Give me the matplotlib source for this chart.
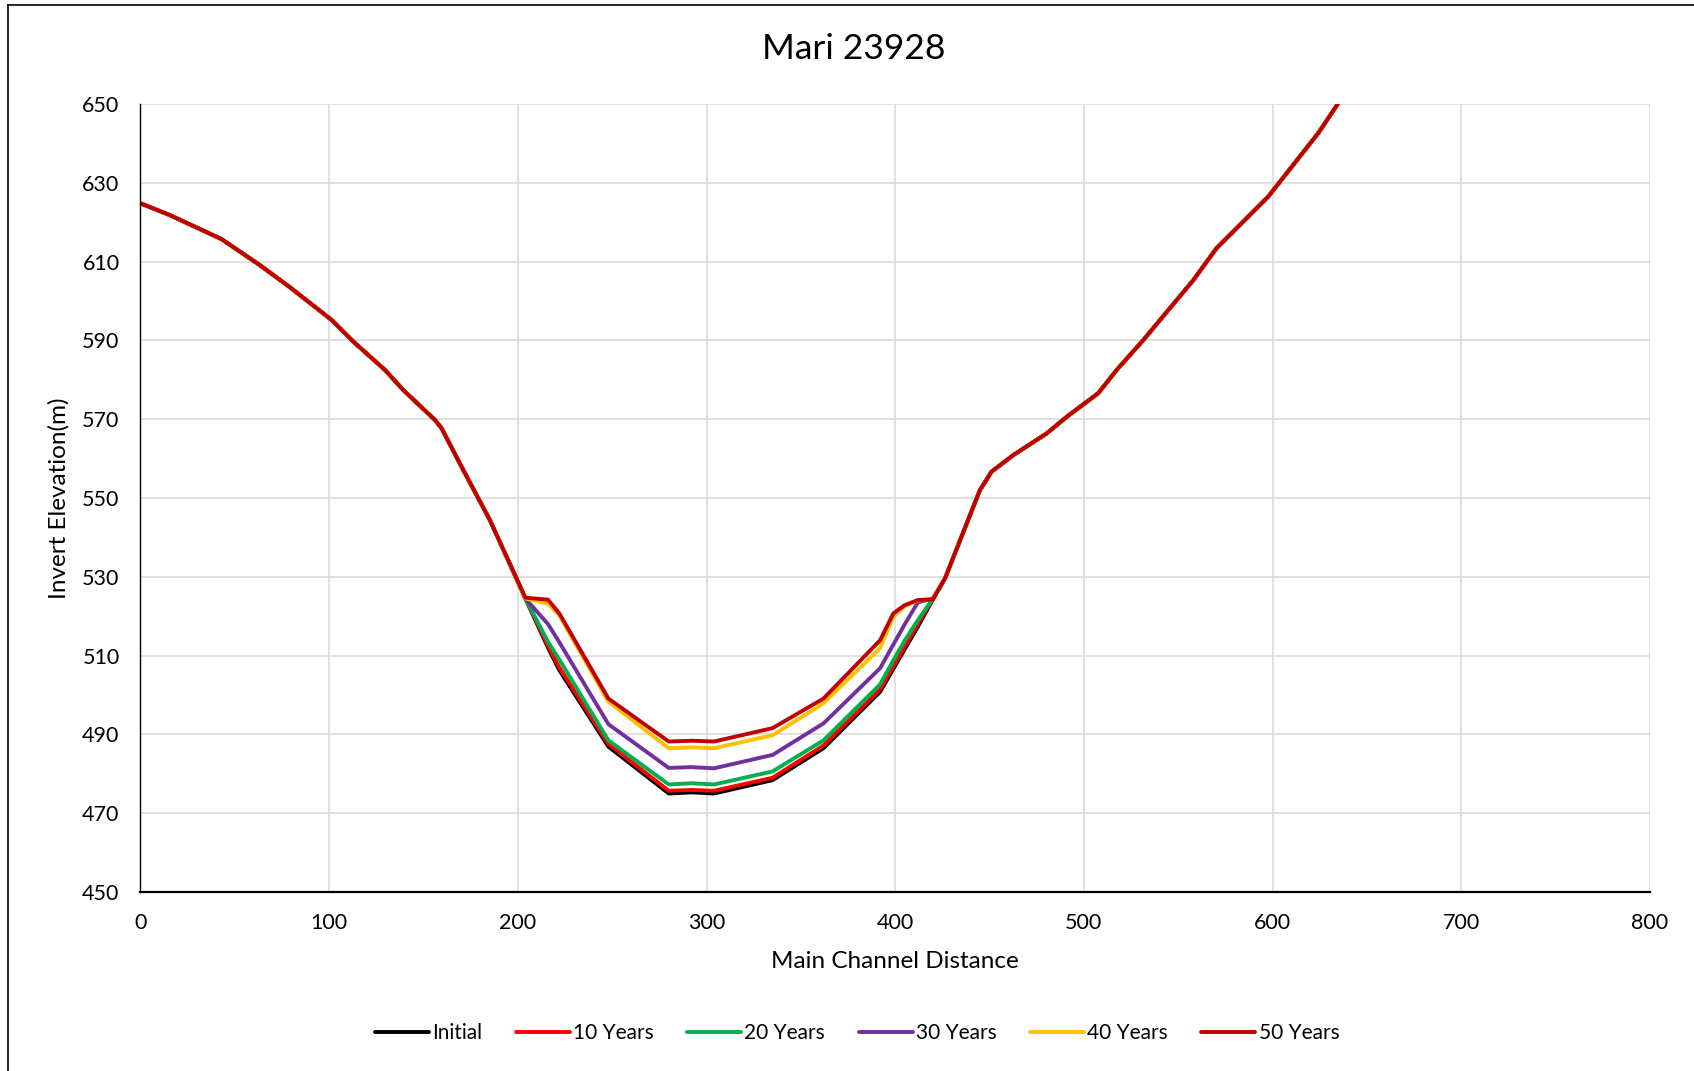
import matplotlib
matplotlib.use("Agg")
import matplotlib.pyplot as plt
from matplotlib.lines import Line2D

plt.rcParams['font.family'] = ['Lato', 'DejaVu Sans']

# shared banks (all series identical outside the channel)
left_x = [0, 15.6, 43, 63.3, 79.2, 101.3, 112.8, 129.6, 139.3, 156.1, 159.6, 171.1, 185.2]
left_z = [624.8, 621.8, 615.7, 609.1, 603.5, 595.2, 589.7, 582.5, 577.4, 569.8, 567.7, 557.1, 544.4]

right_x = [426.4, 444.9, 451.1, 462.6, 480.3, 490.9, 507.6, 517.4, 531.5, 558, 570.3, 597.7, 624.2, 645]
right_z = [529.6, 552.0, 556.7, 560.9, 566.4, 570.6, 576.6, 582.5, 590.1, 605.3, 613.4, 626.5, 642.6, 657.5]

# channel section
valley_x = [204, 216, 222, 248, 280, 292, 304, 335, 362, 392, 399, 405, 412, 420]
initial = [524.5, 512.0, 506.3, 486.9, 475.0, 475.3, 475.0, 478.4, 486.5, 500.8, 506.6, 511.6, 517.3, 524.3]
yr10 = [524.5, 512.5, 507.0, 487.6, 475.7, 475.9, 475.7, 479.0, 487.2, 501.5, 507.3, 512.3, 518.0, 524.4]
yr20 = [524.5, 513.5, 509.0, 488.5, 477.3, 477.6, 477.3, 480.6, 488.5, 502.7, 508.8, 513.8, 519.0, 524.5]
yr30 = [524.5, 518.0, 513.4, 492.6, 481.5, 481.7, 481.4, 484.8, 492.8, 506.8, 512.8, 517.9, 523.5, 524.5]
yr40 = [524.5, 523.2, 520.2, 498.3, 486.5, 486.7, 486.5, 489.8, 497.9, 511.9, 519.9, 522.5, 524.0, 524.5]
yr50 = [524.7, 524.2, 520.7, 499.1, 488.2, 488.4, 488.2, 491.6, 499.1, 513.9, 520.7, 522.8, 524.1, 524.3]

labels = ["Initial", "10 Years", "20 Years", "30 Years", "40 Years", "50 Years"]
colors = ["#000000", "#ff0000", "#00b050", "#7030a0", "#ffc000", "#c00000"]
series = [initial, yr10, yr20, yr30, yr40, yr50]

fig = plt.figure(figsize=(16.94, 10.71), dpi=100)
ax = fig.add_axes([0.0829, 0.1671, 0.8911, 0.7358])

x_all = left_x + valley_x + right_x
for lab, col, s in zip(labels, colors, series):
    z_all = left_z + s + right_z
    ax.plot(x_all, z_all, color=col, lw=2.8, label=lab,
            solid_joinstyle='round', solid_capstyle='round')

ax.set_xlim(0, 800)
ax.set_ylim(450, 650)
ax.set_xticks(range(0, 801, 100))
ax.set_yticks(range(450, 651, 20))
ax.grid(True, color="#d9d9d9", lw=1.1)
ax.set_axisbelow(True)
ax.tick_params(length=0, labelsize=15.5, pad=15)
for side in ["top", "right"]:
    ax.spines[side].set_visible(False)
ax.spines["left"].set_linewidth(1.0)
ax.spines["bottom"].set_linewidth(1.6)

ax.set_xlabel("Main Channel Distance", fontsize=17.5, va="center")
ax.xaxis.set_label_coords(0.5, -0.0876)
ax.set_ylabel("Invert Elevation(m)", fontsize=17.5, va="center")
ax.yaxis.set_label_coords(-0.054, 0.5)

fig.text(0.504, 0.954, "Mari 23928", fontsize=25.5, ha="center", va="center")

fig.legend(loc="center", bbox_to_anchor=(0.506, 0.0355), ncol=6, frameon=False,
           fontsize=15, handlelength=2.6, handletextpad=0.15, columnspacing=1.6)

# chart frame (only top and left edges visible)
fig.add_artist(Line2D([8 / 1694, 8 / 1694], [0, 1 - 5 / 1071], color="black", lw=1.2))
fig.add_artist(Line2D([8 / 1694, 1], [1 - 5 / 1071, 1 - 5 / 1071], color="black", lw=1.2))

fig.savefig("out.png", dpi=100)
